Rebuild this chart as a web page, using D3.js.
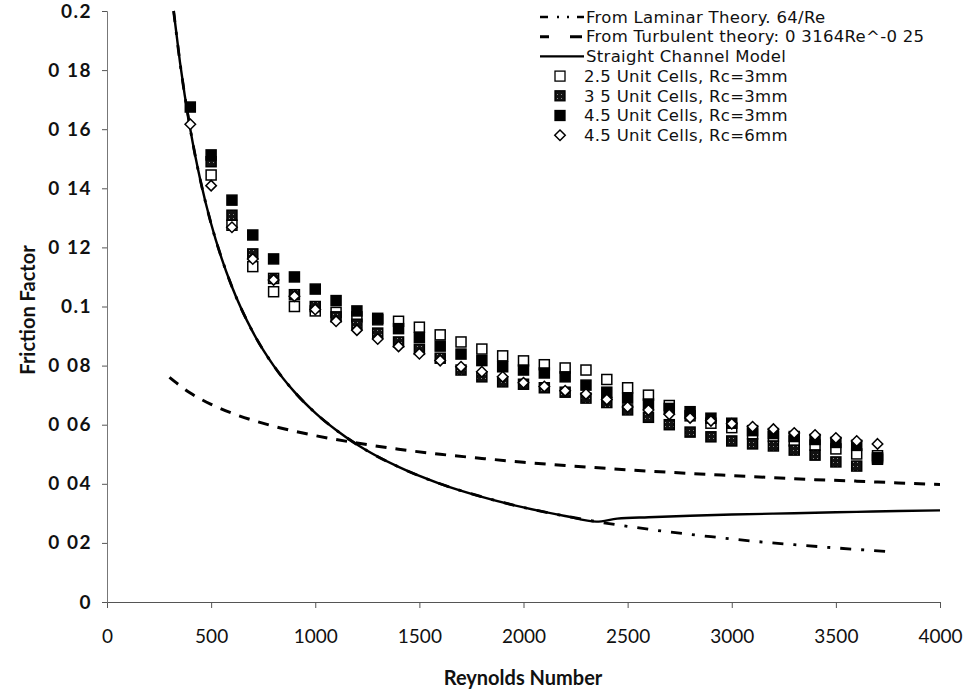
<!DOCTYPE html>
<html>
<head>
<meta charset="utf-8">
<script src="https://cdn.jsdelivr.net/npm/d3@7"></script>
<style>
  body { margin: 0; background: #fff; }
  text { font-family: Lato, "Open Sans", sans-serif; fill: #111; }
</style>
</head>
<body>
<svg id="chart" width="967" height="692"></svg>
<script>
// Reynolds numbers of the measured points
const reynolds = [400, 500, 600, 700, 800, 900, 1000, 1100, 1200, 1300, 1400, 1500, 1600, 1700,
  1800, 1900, 2000, 2100, 2200, 2300, 2400, 2500, 2600, 2700, 2800, 2900, 3000, 3100, 3200,
  3300, 3400, 3500, 3600, 3700];

// Measured friction factors (null = no measurement at that Re)
const cells25Rc3 = [null, 0.1445, 0.1275, 0.1135, 0.105, 0.100, 0.0985, 0.098, 0.0965, 0.0955,
  0.095, 0.093, 0.0904, 0.088, 0.0856, 0.0833, 0.0816, 0.0803, 0.0792, 0.0785, 0.0753, 0.0725,
  0.070, 0.0665, 0.063, 0.0605, 0.059, 0.0569, 0.056, 0.0545, 0.0531, 0.0518, 0.0501, 0.0495];
const cells35Rc3 = [null, 0.149, 0.1309, 0.1178, 0.1095, 0.104, 0.100, 0.0965, 0.094, 0.091,
  0.088, 0.0855, 0.0825, 0.0785, 0.0762, 0.0745, 0.0737, 0.0725, 0.071, 0.069, 0.0675, 0.065,
  0.0625, 0.060, 0.0575, 0.0559, 0.0545, 0.0535, 0.0528, 0.0514, 0.0497, 0.0474, 0.046, 0.0483];
const cells45Rc3 = [0.1675, 0.1513, 0.136, 0.1242, 0.1161, 0.110, 0.1059, 0.102, 0.0985, 0.096,
  0.0925, 0.0895, 0.0866, 0.0839, 0.0817, 0.0796, 0.0785, 0.0775, 0.0762, 0.0734, 0.071, 0.069,
  0.067, 0.0655, 0.0644, 0.0622, 0.0605, 0.058, 0.057, 0.056, 0.055, 0.054, 0.053, 0.0488];
const cells45Rc6 = [0.1617, 0.1409, 0.1268, 0.1161, 0.109, 0.1035, 0.099, 0.095, 0.092, 0.089,
  0.0865, 0.084, 0.0817, 0.0796, 0.0779, 0.0762, 0.0742, 0.0729, 0.0715, 0.0704, 0.0685, 0.066,
  0.065, 0.0635, 0.0623, 0.0613, 0.0603, 0.0593, 0.0585, 0.0572, 0.0565, 0.0555, 0.0545, 0.0535];

// Laminar theory curve
const laminarRe = [320, 350, 400, 450, 500, 550, 600, 700, 800, 900, 1000, 1100, 1200, 1400,
  1600, 1800, 2000, 2200, 2350, 2500, 2700, 2900, 3100, 3300, 3500, 3760];
const laminarF = [0.2, 0.1829, 0.16, 0.1422, 0.128, 0.1164, 0.1067, 0.0914, 0.08, 0.0711, 0.064,
  0.0582, 0.0533, 0.0457, 0.04, 0.0356, 0.032, 0.0291, 0.0272, 0.0256, 0.0237, 0.0221, 0.0206,
  0.0194, 0.0183, 0.017];

// Turbulent (Blasius) curve
const turbulentRe = [300, 400, 500, 600, 800, 1000, 1200, 1400, 1600, 1800, 2000, 2200, 2400,
  2600, 2800, 3000, 3200, 3400, 3600, 3800, 4000];
const turbulentF = [0.0760, 0.0707, 0.0669, 0.0639, 0.0595, 0.0563, 0.0538, 0.0517, 0.0500,
  0.0486, 0.0473, 0.0462, 0.0452, 0.0443, 0.0435, 0.0428, 0.0421, 0.0414, 0.0409, 0.0403, 0.0398];

// Straight channel model curve
const channelRe = [320, 350, 400, 450, 500, 550, 600, 700, 800, 900, 1000, 1100, 1200, 1400,
  1600, 1800, 2000, 2200, 2350, 2450, 2600, 2800, 3000, 3200, 3400, 3600, 3800, 4000];
const channelF = [0.2, 0.1829, 0.16, 0.1422, 0.128, 0.1164, 0.1067, 0.0914, 0.08, 0.0711, 0.064,
  0.0582, 0.0533, 0.0457, 0.04, 0.0356, 0.032, 0.0291, 0.0272, 0.0282, 0.0287, 0.0292, 0.0296,
  0.0299, 0.0302, 0.0305, 0.0308, 0.031];

const xTicks = [0, 500, 1000, 1500, 2000, 2500, 3000, 3500, 4000];
const yTicks = [0, 0.02, 0.04, 0.06, 0.08, 0.1, 0.12, 0.14, 0.16, 0.18, 0.2];
const yTickLabels = ["0", "0 02", "0 04", "0 06", "0 08", "0.1", "0 12", "0 14", "0 16", "0 18", "0.2"];

const legendLabels = [
  "From Laminar Theory. 64/Re",
  "From Turbulent theory: 0 3164Re^-0 25",
  "Straight Channel  Model",
  "2.5 Unit Cells, Rc=3mm",
  "3 5 Unit Cells, Rc=3mm",
  "4.5 Unit Cells, Rc=3mm",
  "4.5 Unit Cells, Rc=6mm"
];

const svg = d3.select("#chart");
const x = d3.scaleLinear().domain([0, 4000]).range([107, 940]);
const y = d3.scaleLinear().domain([0, 0.2]).range([602, 11]);

// dark speckled fill for the 3.5-cell series
const defs = svg.append("defs");
const pat = defs.append("pattern").attr("id", "speckle").attr("patternUnits", "userSpaceOnUse")
  .attr("width", 4).attr("height", 4);
pat.append("rect").attr("width", 4).attr("height", 4).attr("fill", "#111");
pat.append("rect").attr("x", 1).attr("y", 2).attr("width", 1).attr("height", 1).attr("fill", "#888");

// axes
const xAxis = svg.append("g").attr("transform", "translate(0,602)")
  .call(d3.axisBottom(x).tickValues(xTicks).tickSize(6).tickPadding(22).tickFormat(d3.format("d")));
xAxis.select(".domain").attr("stroke", "#555").attr("stroke-width", 1);
xAxis.selectAll(".tick line").attr("stroke", "#555");
xAxis.selectAll("text").style("font-size", "19px").attr("fill", "#111");

const yAxis = svg.append("g").attr("transform", "translate(107,0)")
  .call(d3.axisLeft(y).tickValues(yTicks).tickSize(5).tickPadding(10)
    .tickFormat((d, i) => yTickLabels[i]));
yAxis.select(".domain").attr("stroke", "#777").attr("stroke-width", 1);
yAxis.selectAll(".tick line").attr("stroke", "#555");
yAxis.selectAll("text").style("font-size", "19px").style("font-weight", "bold")
  .style("letter-spacing", "1.5px").attr("fill", "#111");

// axis titles
svg.append("text").attr("x", 523).attr("y", 685).attr("text-anchor", "middle")
  .style("font-size", "20px").style("font-weight", "bold").text("Reynolds Number");
svg.append("text").attr("transform", "translate(35,310) rotate(-90)").attr("text-anchor", "middle")
  .style("font-size", "20px").style("font-weight", "bold").text("Friction Factor");

// curves
const line = d3.line().x(d => x(d[0])).y(d => y(d[1])).curve(d3.curveMonotoneX);
const pairs = (a, b) => a.map((v, i) => [v, b[i]]);

svg.append("path").datum(pairs(laminarRe, laminarF)).attr("d", line)
  .attr("fill", "none").attr("stroke", "#000").attr("stroke-width", 2.8)
  .attr("stroke-dasharray", "11,10,3,10");
svg.append("path").datum(pairs(turbulentRe, turbulentF)).attr("d", line)
  .attr("fill", "none").attr("stroke", "#000").attr("stroke-width", 3)
  .attr("stroke-dasharray", "11,9");
svg.append("path").datum(pairs(channelRe, channelF)).attr("d", line)
  .attr("fill", "none").attr("stroke", "#000").attr("stroke-width", 2.4);

// measured points
const sq = 10;
function squares(values, fill) {
  svg.append("g").selectAll("rect")
    .data(reynolds.map((r, i) => [r, values[i]]).filter(d => d[1] !== null))
    .join("rect")
    .attr("x", d => x(d[0]) - sq / 2).attr("y", d => y(d[1]) - sq / 2)
    .attr("width", sq).attr("height", sq)
    .attr("fill", fill).attr("stroke", "#000").attr("stroke-width", 1.5);
}
squares(cells25Rc3, "#fff");
squares(cells35Rc3, "url(#speckle)");
squares(cells45Rc3, "#000");

const diamond = d3.symbol().type(d3.symbolDiamond2).size(70);
svg.append("g").selectAll("path")
  .data(reynolds.map((r, i) => [r, cells45Rc6[i]]).filter(d => d[1] !== null))
  .join("path")
  .attr("transform", d => `translate(${x(d[0])},${y(d[1])})`)
  .attr("d", diamond).attr("fill", "#fff").attr("stroke", "#000").attr("stroke-width", 1.5);

// legend
const leg = svg.append("g");
const rowY = i => 17 + i * 19.7;
leg.append("line").attr("x1", 540).attr("x2", 584).attr("y1", rowY(0)).attr("y2", rowY(0))
  .attr("stroke", "#000").attr("stroke-width", 2.6).attr("stroke-dasharray", "8,9,2,8,2,8");
leg.append("line").attr("x1", 540).attr("x2", 582).attr("y1", rowY(1)).attr("y2", rowY(1))
  .attr("stroke", "#000").attr("stroke-width", 3).attr("stroke-dasharray", "9,21,12");
leg.append("line").attr("x1", 540).attr("x2", 584).attr("y1", rowY(2)).attr("y2", rowY(2))
  .attr("stroke", "#000").attr("stroke-width", 2.2);
const legFills = ["#fff", "url(#speckle)", "#000"];
legFills.forEach((f, k) => {
  leg.append("rect").attr("x", 555).attr("y", rowY(3 + k) - 5).attr("width", 10).attr("height", 10)
    .attr("fill", f).attr("stroke", "#000").attr("stroke-width", 1.3);
});
leg.append("path").attr("transform", `translate(560,${rowY(6)})`).attr("d", diamond)
  .attr("fill", "#fff").attr("stroke", "#000").attr("stroke-width", 1.5);
leg.selectAll("text.lab").data(legendLabels).join("text").attr("class", "lab")
  .attr("x", (d, i) => i < 3 ? 586 : 584).attr("y", (d, i) => rowY(i)).attr("dy", "0.35em")
  .style("font-family", "'DejaVu Sans', sans-serif")
  .style("font-size", "16.5px").style("letter-spacing", "0.3px").text(d => d);
</script>
</body>
</html>
